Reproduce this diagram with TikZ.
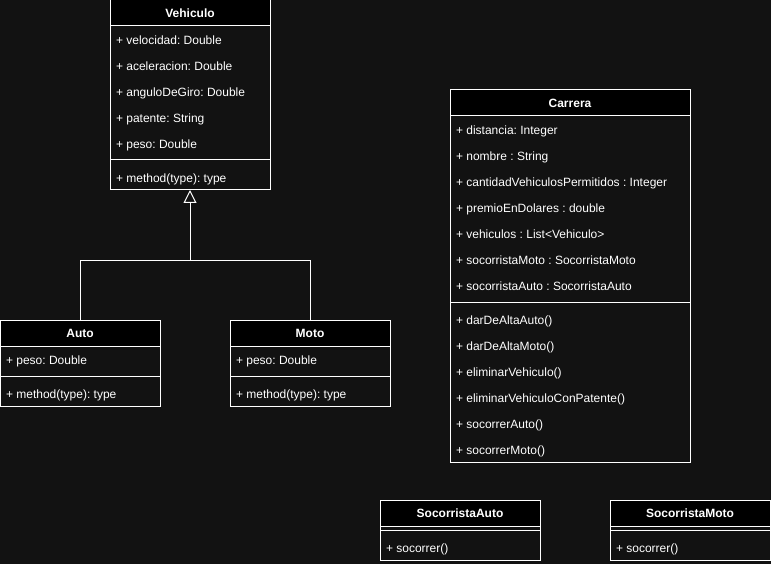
\documentclass[tikz,border=0pt]{standalone}
\usepackage{fontspec}
\setmainfont{Liberation Sans}
\usetikzlibrary{arrows.meta}
\definecolor{bg}{RGB}{18,18,18}
\frenchspacing
\begin{document}
\frenchspacing
\begin{tikzpicture}[x=1pt,y=-1pt,
  font=\fontsize{12}{14}\selectfont,
  every node/.style={inner sep=0pt, outer sep=0pt},
  umlbox/.style={draw=white, line width=1pt, fill=bg, anchor=north west},
  hdr/.style={draw=white, line width=1pt, fill=black, anchor=north west, minimum height=26pt, text=white, text height=9pt, text depth=-1pt, font=\fontsize{12}{14}\selectfont\bfseries},
  row/.style={anchor=west, text=white, text height=8.6pt, text depth=0pt},
  sepline/.style={draw=white, line width=1pt},
  inherit/.style={draw=white, line width=1pt, -{Triangle[open, length=13pt, width=13pt]}},
  link/.style={draw=white, line width=1pt}]
\fill[bg] (0,0) rectangle (771,564);
\useasboundingbox (0,0) rectangle (771,564);

% Vehiculo
\node[umlbox, minimum width=160pt, minimum height=190pt] (veh) at (110,0) {};
\node[hdr, minimum width=160pt] (vehh) at (110,0) {Vehiculo};
\node[row] (veha1) at (116,40) {+ velocidad: Double};
\node[row] (veha2) at (116,66) {+ aceleracion: Double};
\node[row] (veha3) at (116,92) {+ anguloDeGiro: Double};
\node[row] (veha4) at (116,118) {+ patente: String};
\node[row] (veha5) at (116,144) {+ peso: Double};
\draw[sepline] (veh.west |- 0,160) -- (veh.east |- 0,160);
\node[row] (vehm1) at (116,178) {+ method(type): type};

% Auto
\node[umlbox, minimum width=160pt, minimum height=86pt] (auto) at (0,320) {};
\node[hdr, minimum width=160pt] (autoh) at (0,320) {Auto};
\node[row] (autoa1) at (6,360) {+ peso: Double};
\draw[sepline] (auto.west |- 0,376) -- (auto.east |- 0,376);
\node[row] (autom1) at (6,394) {+ method(type): type};

% Moto
\node[umlbox, minimum width=160pt, minimum height=86pt] (moto) at (230,320) {};
\node[hdr, minimum width=160pt] (motoh) at (230,320) {Moto};
\node[row] (motoa1) at (236,360) {+ peso: Double};
\draw[sepline] (moto.west |- 0,376) -- (moto.east |- 0,376);
\node[row] (motom1) at (236,394) {+ method(type): type};

% Inheritance
\coordinate (join) at (190,260);
\draw[link] (moto.north) |- (join);
\draw[inherit] (auto.north) |- (join) -- (veh.south);

% Carrera
\node[umlbox, minimum width=240pt, minimum height=372pt] (car) at (450,90) {};
\node[hdr, minimum width=240pt] (carh) at (450,90) {Carrera};
\node[row] (cara1) at (456,130) {+ distancia: Integer};
\node[row] (cara2) at (456,156) {+ nombre : String};
\node[row] (cara3) at (456,182) {+ cantidadVehiculosPermitidos : Integer};
\node[row] (cara4) at (456,208) {+ premioEnDolares : double};
\node[row] (cara5) at (456,234) {+ vehiculos : List<Vehiculo>};
\node[row] (cara6) at (456,260) {+ socorristaMoto : SocorristaMoto};
\node[row] (cara7) at (456,286) {+ socorristaAuto : SocorristaAuto};
\draw[sepline] (car.west |- 0,302) -- (car.east |- 0,302);
\node[row] (carm1) at (456,320) {+ darDeAltaAuto()};
\node[row] (carm2) at (456,346) {+ darDeAltaMoto()};
\node[row] (carm3) at (456,372) {+ eliminarVehiculo()};
\node[row] (carm4) at (456,398) {+ eliminarVehiculoConPatente()};
\node[row] (carm5) at (456,424) {+ socorrerAuto()};
\node[row] (carm6) at (456,450) {+ socorrerMoto()};

% SocorristaAuto
\node[umlbox, minimum width=160pt, minimum height=60pt] (sa) at (380,500) {};
\node[hdr, minimum width=160pt] (sah) at (380,500) {SocorristaAuto};
\draw[sepline] (sa.west |- 0,530) -- (sa.east |- 0,530);
\node[row] (sam1) at (386,548) {+ socorrer()};

% SocorristaMoto
\node[umlbox, minimum width=160pt, minimum height=60pt] (sm) at (610,500) {};
\node[hdr, minimum width=160pt] (smh) at (610,500) {SocorristaMoto};
\draw[sepline] (sm.west |- 0,530) -- (sm.east |- 0,530);
\node[row] (smm1) at (616,548) {+ socorrer()};
\end{tikzpicture}
\end{document}
